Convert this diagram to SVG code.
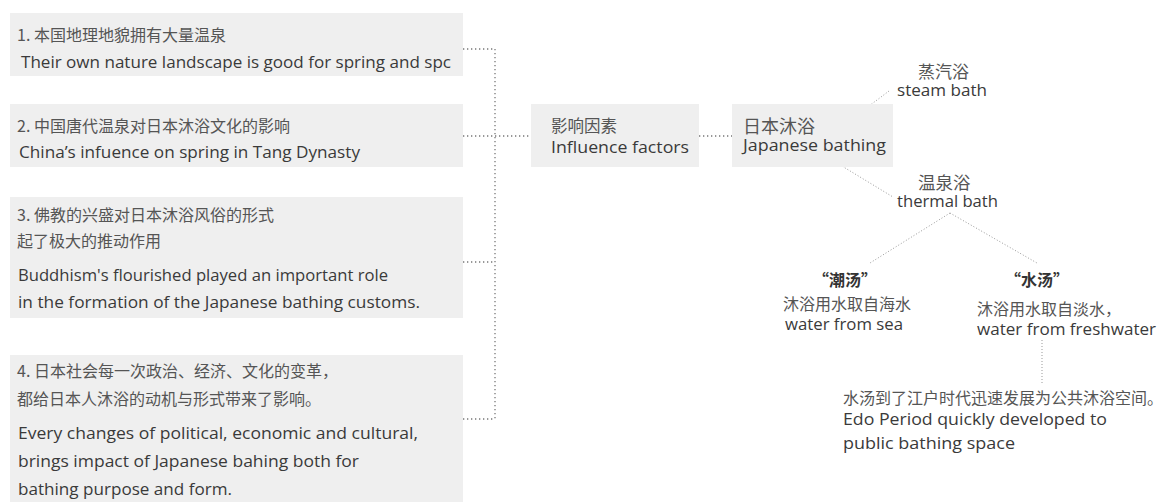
<svg xmlns="http://www.w3.org/2000/svg" width="1163" height="502" viewBox="0 0 1163 502">
<style>
.box{fill:#efefef}
.en{font-family:"Open Sans","Liberation Sans",sans-serif;fill:#3a3a3a;font-size:17px}
.zh{font-family:"Noto Sans CJK SC","Noto Sans",sans-serif;fill:#555;font-size:16px}
.zb{font-family:"Noto Sans CJK SC",sans-serif;fill:#333;font-size:16px;font-weight:bold;text-anchor:middle}
.dl{fill:none;stroke:#777;stroke-width:1.3;stroke-dasharray:1.3 2.7}
.dr{fill:none;stroke:#999;stroke-width:1;stroke-dasharray:1 2}
</style>
<rect width="1163" height="502" fill="#fff"/>
<g id="connectors">
<path class="dl" d="M463,49H495M463,136H531M463,262H495M463,419H495M495,49V419M699,136H732"/>
<path class="dr" d="M833,133L889,91M832,160L893,197M950,213L870,263M950,213L1037,263M1042,340V383"/>
</g>
<g id="factor1">
<rect class="box" x="10" y="13" width="453" height="63"/>
<text class="zh" x="17" y="41">1. 本国地理地貌拥有大量温泉</text>
<text class="en" x="21" y="67.5" textLength="430" lengthAdjust="spacingAndGlyphs">Their own nature landscape is good for spring and spc</text>
</g>
<g id="factor2">
<rect class="box" x="10" y="104" width="453" height="63"/>
<text class="zh" x="17" y="132">2. 中国唐代温泉对日本沐浴文化的影响</text>
<text class="en" x="19" y="158" textLength="341" lengthAdjust="spacingAndGlyphs">China’s infuence on spring in Tang Dynasty</text>
</g>
<g id="factor3">
<rect class="box" x="10" y="197" width="453" height="121"/>
<text class="zh" x="17" y="221">3. 佛教的兴盛对日本沐浴风俗的形式</text>
<text class="zh" x="17" y="247">起了极大的推动作用</text>
<text class="en" x="18" y="281" textLength="370" lengthAdjust="spacingAndGlyphs">Buddhism's flourished played an important role</text>
<text class="en" x="18" y="308" textLength="402" lengthAdjust="spacingAndGlyphs">in the formation of the Japanese bathing customs.</text>
</g>
<g id="factor4">
<rect class="box" x="10" y="355" width="453" height="147"/>
<text class="zh" x="17" y="377">4. 日本社会每一次政治、经济、文化的变革，</text>
<text class="zh" x="17" y="405">都给日本人沐浴的动机与形式带来了影响。</text>
<text class="en" x="18" y="439" textLength="400" lengthAdjust="spacingAndGlyphs">Every changes of political, economic and cultural,</text>
<text class="en" x="18" y="467" textLength="341" lengthAdjust="spacingAndGlyphs">brings impact of Japanese bahing both for</text>
<text class="en" x="18" y="495" textLength="214" lengthAdjust="spacingAndGlyphs">bathing purpose and form.</text>
</g>
<g id="influence">
<rect class="box" x="531" y="104" width="168" height="63"/>
<text class="zh" x="551" y="132" style="font-size:16.5px">影响因素</text>
<text class="en" x="551" y="153" textLength="138" lengthAdjust="spacingAndGlyphs">Influence factors</text>
</g>
<g id="japanese">
<rect class="box" x="732" y="104" width="161" height="63"/>
<text class="zh" x="743" y="133" style="font-size:18px">日本沐浴</text>
<text class="en" x="743" y="151" textLength="143" lengthAdjust="spacingAndGlyphs">Japanese bathing</text>
</g>
<g id="steam">
<text class="zh" x="918" y="78" style="font-size:17px">蒸汽浴</text>
<text class="en" x="897" y="96" style="font-size:16px" textLength="90" lengthAdjust="spacingAndGlyphs">steam bath</text>
</g>
<g id="thermal">
<text class="zh" x="918" y="189" style="font-size:17.5px">温泉浴</text>
<text class="en" x="897" y="207" style="font-size:16px" textLength="101" lengthAdjust="spacingAndGlyphs">thermal bath</text>
</g>
<g id="sea">
<text class="zb" x="845" y="286">“潮汤”</text>
<text class="zh" x="783" y="310">沐浴用水取自海水</text>
<text class="en" x="785" y="330" style="font-size:16.5px" textLength="118" lengthAdjust="spacingAndGlyphs">water from sea</text>
</g>
<g id="fresh">
<text class="zb" x="1037" y="286">“水汤”</text>
<text class="zh" x="977" y="315">沐浴用水取自淡水，</text>
<text class="en" x="977" y="335" style="font-size:16.5px" textLength="179" lengthAdjust="spacingAndGlyphs">water from freshwater</text>
</g>
<g id="edo">
<text class="zh" x="843" y="404">水汤到了江户时代迅速发展为公共沐浴空间。</text>
<text class="en" x="843" y="425" style="font-size:16.5px" textLength="264" lengthAdjust="spacingAndGlyphs">Edo Period quickly developed to</text>
<text class="en" x="843" y="449" style="font-size:16.5px" textLength="172" lengthAdjust="spacingAndGlyphs">public bathing space</text>
</g>
</svg>
